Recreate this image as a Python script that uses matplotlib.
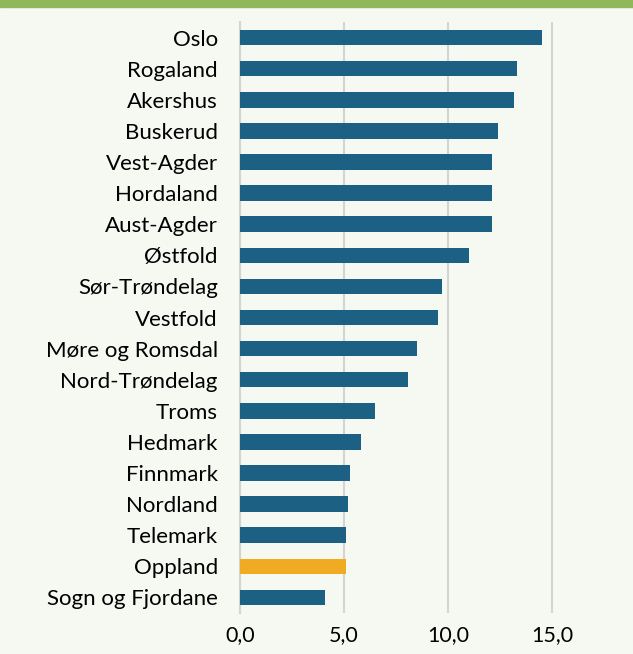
import matplotlib
matplotlib.use("Agg")
import matplotlib.pyplot as plt
from matplotlib.patches import Rectangle

counties = ["Oslo", "Rogaland", "Akershus", "Buskerud", "Vest-Agder", "Hordaland",
            "Aust-Agder", "Østfold", "Sør-Trøndelag", "Vestfold", "Møre og Romsdal",
            "Nord-Trøndelag", "Troms", "Hedmark", "Finnmark", "Nordland", "Telemark",
            "Oppland", "Sogn og Fjordane"]
values = [14.5, 13.3, 13.2, 12.4, 12.1, 12.1, 12.1, 11.0, 9.7, 9.5, 8.5,
          8.1, 6.5, 5.8, 5.3, 5.2, 5.1, 5.1, 4.1]
highlight = "Oppland"
xticks = [0, 5, 10, 15]
xticklabels = ["0,0", "5,0", "10,0", "15,0"]

plt.rcParams['font.family'] = ['Lato', 'DejaVu Sans']

bg = "#f6f8f2"
fig = plt.figure(figsize=(6.33, 6.54), dpi=100, facecolor=bg)
ax = fig.add_axes([240/633, 1 - 613/654, 1 - 240/633, (613 - 22)/654])
ax.set_facecolor(bg)

colors = ["#f0ab22" if c == highlight else "#1c6084" for c in counties]
ypos = list(range(len(counties)))
ax.barh(ypos, values, height=0.5, color=colors, zorder=3)
ax.set_ylim(len(counties) - 0.5, -0.5)
ax.set_xlim(0, 18.9)
ax.set_yticks(ypos)
ax.set_yticklabels(counties, fontsize=16)
ax.set_xticks(xticks)
ax.set_xticklabels(xticklabels, fontsize=15.5)
ax.tick_params(axis='y', length=0, pad=16)
ax.tick_params(axis='x', length=0, pad=9)
ax.grid(axis='x', color="#d4d4d4", linewidth=1.5, zorder=0)
for s in ["top", "right", "bottom"]:
    ax.spines[s].set_visible(False)
ax.spines["left"].set_color("#d4d4d4")
ax.spines["left"].set_linewidth(1.5)

fig.patches.append(Rectangle((0, 1 - 7/654), 1, 7/654, transform=fig.transFigure,
                             color="#8fb85a", zorder=10))

fig.savefig("out.png", dpi=100, facecolor=bg)
